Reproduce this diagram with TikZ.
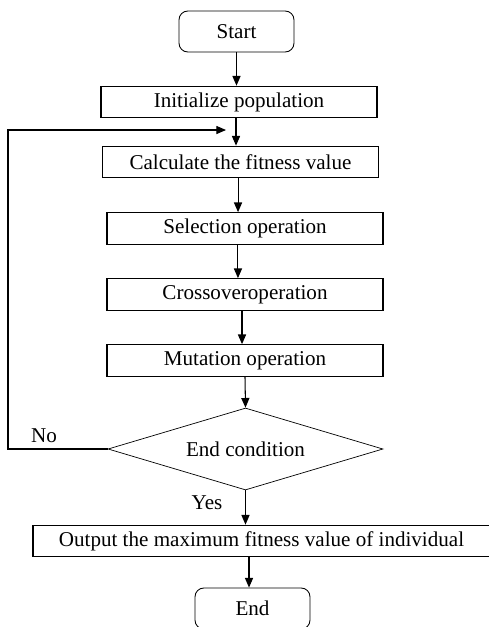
\documentclass[tikz,border=0pt]{standalone}
\usepackage{fontspec}
\setmainfont{Liberation Serif}
\usepackage{tikz}
\usetikzlibrary{shapes.geometric,arrows.meta}

\begin{document}
\begin{tikzpicture}[x=0.02cm, y=-0.02cm, >={Triangle[length=5.5pt,width=4.6pt]},
    font=\fontsize{12}{14}\selectfont,
    term/.style={draw, rounded corners=5pt, line width=0.5pt, minimum width=2.3cm, minimum height=0.82cm, inner sep=0pt},
    stepbox/.style={draw, line width=0.7pt, minimum width=5.52cm, minimum height=0.63cm, inner sep=0pt},
    cond/.style={draw, diamond, aspect=3.35, line width=0.4pt, minimum width=5.5cm, minimum height=1.64cm, inner sep=0pt},
    flow/.style={->, line width=0.6pt}]
\useasboundingbox (0,0) rectangle (489,627);
            \node (start) at (236.5, 31.5) [term] {Start};
            \node (init) at (239, 102) [stepbox] {Initialize population};
            \node (fit) at (240.5, 162) [stepbox] {Calculate the fitness value};
            \node (sel) at (245, 228.5) [stepbox] {Selection operation};
            \node (cross) at (245, 294.5) [stepbox] {Crossoveroperation};
            \node (mut) at (245, 360.5) [stepbox] {Mutation operation};
            \node (endc) at (245.5, 449) [cond] {End condition};
            \node (out) at (261.5, 541) [stepbox, minimum width=9.14cm] {Output the maximum fitness value of individual};
            \node (fin) at (252.5, 608.5) [term] {End};
            \node (no) at (44, 436) {No};
            \node (yes) at (207, 503) {Yes};
            \coordinate (back) at (226, 130);
            \coordinate (corner) at (8, 449);
            \draw [flow] (start.south) -- (start.south |- init.north);
            \draw [flow] ([xshift=-1.7pt]init.south) -- ([xshift=-1.7pt]init.south |- fit.north);
            \draw [flow] ([xshift=-1.4pt]fit.south) -- ([xshift=-1.4pt]fit.south |- sel.north);
            \draw [flow] ([xshift=-4pt]sel.south) -- ([xshift=-4pt]sel.south |- cross.north);
            \draw [flow] ([xshift=-1.7pt]cross.south) -- ([xshift=-1.7pt]cross.south |- mut.north);
            \draw [flow] (mut.south) -- (endc.north);
            \draw [flow] (endc.south) -- (endc.south |- out.north);
            \draw [flow] ([xshift=-7.1pt]out.south) -- ([xshift=-7.1pt]out.south |- fin.north);
            \draw [flow] (endc.west) -- (corner) |- (back);
        \end{tikzpicture}
\end{document}
